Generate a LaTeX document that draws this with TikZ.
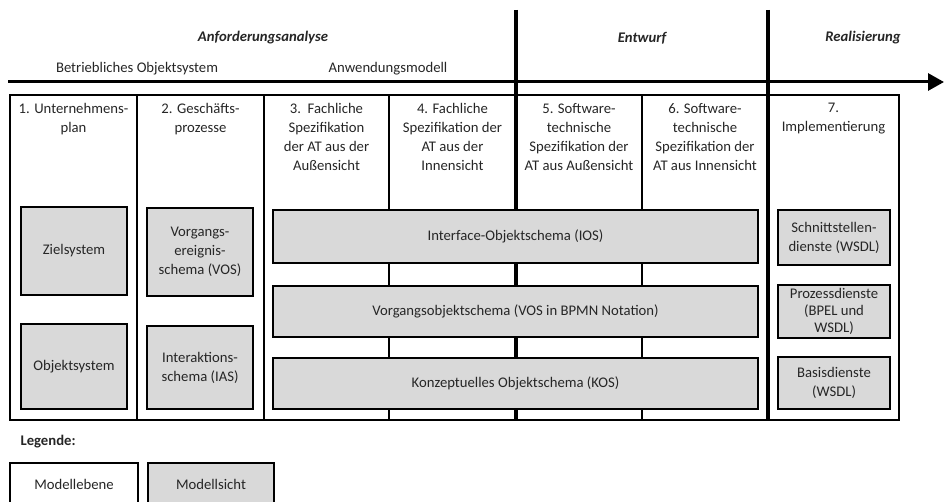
\documentclass[tikz,border=0pt]{standalone}
\usepackage{fontspec}
\setmainfont{Carlito}
\usetikzlibrary{arrows.meta}
\definecolor{boxgray}{HTML}{D9D9D9}
\definecolor{txt}{HTML}{262626}
\begin{document}
\begin{tikzpicture}[x=1pt,y=-1pt,
  every node/.style={text=txt, font=\fontsize{14.7}{19}\selectfont},
  gbox/.style={draw=black, line width=1.8pt, fill=boxgray, align=center, inner sep=2pt},
  wbox/.style={draw=black, line width=1.8pt, fill=white, align=center, inner sep=2pt},
  thinline/.style={line width=1.4pt},
  phase/.style={line width=3.2pt},
  head/.style={anchor=north, align=center, inner sep=0pt},
  phasetitle/.style={font=\fontsize{14.7}{19}\selectfont\bfseries\itshape},
]
\useasboundingbox (0,0) rectangle (944,502);

% coordinates
\coordinate (tl) at (10,95);
\coordinate (br) at (899,420);
\foreach \n/\x in {a/137,b/264,c/389,d/642}{
  \coordinate (\n t) at (\x,95);
  \coordinate (\n b) at (\x,420);
}
\coordinate (p1t) at (516,10);
\coordinate (p1b) at (516,420);
\coordinate (p2t) at (768,10);
\coordinate (p2b) at (768,420);
\coordinate (arrs) at (8,82);
\coordinate (arre) at (944,82);

% table
\draw[thinline] (tl) rectangle (br);
\foreach \n in {a,b,c,d}{ \draw[thinline] (\n t) -- (\n b); }

% phase lines
\draw[phase] (p1t) -- (p1b);
\draw[phase] (p2t) -- (p2b);
\draw[line width=3pt, -{Triangle[length=16pt,width=17pt]}] (arrs) -- (arre);

% phase titles
\node[phasetitle] (anf) at (263,38) {Anforderungsanalyse};
\node[phasetitle] (entw) at (642,38) {Entwurf};
\node[phasetitle] (real) at (863,38) {Realisierung};
\node (bos) at (137,69) {Betriebliches Objektsystem};
\node (awm) at (388,69) {Anwendungsmodell};

% column heads
\node[head] (h1) at (73.5,103) {1. Unternehmens-\\plan};
\node[head] (h2) at (200.5,103) {2. Geschäfts-\\prozesse};
\node[head] (h3) at (326.5,103) {3.\ \ Fachliche\\Spezifikation\\der AT aus der\\Außensicht};
\node[head] (h4) at (452.5,103) {4. Fachliche\\Spezifikation der\\AT aus der\\Innensicht};
\node[head] (h5) at (579,103) {5. Software-\\technische\\Spezifikation der\\AT aus Außensicht};
\node[head] (h6) at (705,103) {6. Software-\\technische\\Spezifikation der\\AT aus Innensicht};
\node[head] (h7) at (833.5,103) {7.\\Implementierung};

% boxes
\node[gbox, minimum width=106pt, minimum height=88pt] (ziel) at (74,251) {Zielsystem};
\node[gbox, minimum width=106pt, minimum height=85pt] (objs) at (74,366.5) {Objektsystem};
\node[gbox, minimum width=106pt, minimum height=88pt] (vos) at (200,252) {Vorgangs-\\ereignis-\\schema (VOS)};
\node[gbox, minimum width=106pt, minimum height=83pt] (ias) at (200,367.5) {Interaktions-\\schema (IAS)};
\node[gbox, minimum width=485pt, minimum height=53pt] (ios) at (515.5,236.5) {Interface-Objektschema (IOS)};
\node[gbox, minimum width=485pt, minimum height=51pt] (bpmn) at (515.5,311.5) {Vorgangsobjektschema (VOS in BPMN Notation)};
\node[gbox, minimum width=485pt, minimum height=51pt] (kos) at (515.5,383.5) {Konzeptuelles Objektschema (KOS)};
\node[gbox, minimum width=112pt, minimum height=55pt] (wsdl) at (834,237.5) {Schnittstellen-\\dienste (WSDL)};
\node[gbox, minimum width=112pt, minimum height=53pt, inner sep=0pt, font=\fontsize{14.7}{17}\selectfont] (bpel) at (834,311.5) {Prozessdienste\\(BPEL und\\WSDL)};
\node[gbox, minimum width=112pt, minimum height=52pt] (basis) at (834,383) {Basisdienste\\(WSDL)};

% legend
\node[anchor=west, font=\fontsize{14.7}{19}\selectfont\bfseries] (leg) at (17,442) {Legende:};
\node[wbox, minimum width=128pt, minimum height=42pt] (mebene) at (74,484) {Modellebene};
\node[gbox, minimum width=126pt, minimum height=42pt] (msicht) at (211,484) {Modellsicht};
\end{tikzpicture}
\end{document}
